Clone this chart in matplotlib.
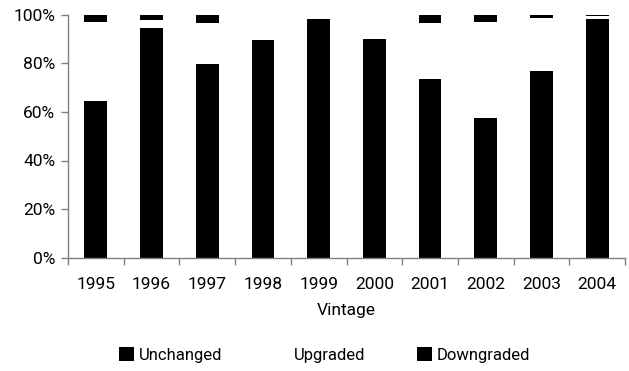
import matplotlib
matplotlib.use("Agg")
import matplotlib.pyplot as plt
from matplotlib import font_manager
import numpy as np

names = {f.name for f in font_manager.fontManager.ttflist}
fam = [f for f in ["Liberation Sans Narrow", "Roboto", "DejaVu Sans"] if f in names]
plt.rcParams['font.family'] = fam

years = ["1995", "1996", "1997", "1998", "1999", "2000", "2001", "2002", "2003", "2004"]
unchanged = [64.5, 94.5, 79.6, 89.5, 98.1, 89.9, 73.5, 57.4, 76.9, 98.1]
downgraded = [2.8, 2.0, 3.6, 0.0, 0.0, 0.0, 3.6, 2.8, 1.2, 0.6]
upgraded = [100 - u - d for u, d in zip(unchanged, downgraded)]
yticks = [0, 20, 40, 60, 80, 100]
ytick_labels = ["0%", "20%", "40%", "60%", "80%", "100%"]

fig = plt.figure(figsize=(6.29, 3.71), dpi=100)
ax = fig.add_axes([68/629, 1-257.7/371, (625-68)/629, (257.7-14.7)/371])

x = np.arange(len(years))
w = 0.41
b1 = ax.bar(x, unchanged, w, color="black", label="Unchanged")
b2 = ax.bar(x, upgraded, w, bottom=unchanged, color="white", label="Upgraded")
b3 = ax.bar(x, downgraded, w, bottom=[u + g for u, g in zip(unchanged, upgraded)],
            color="black", label="Downgraded")

ax.set_xlim(-0.5, len(years) - 0.5)
ax.set_ylim(0, 100)
ax.set_yticks(yticks)
ax.set_yticklabels(ytick_labels)
ax.set_xticks(x)
ax.set_xticklabels(years)
ax.set_xticks(np.arange(len(years) + 1) - 0.5, minor=True)
ax.tick_params(axis='x', which='major', length=0, pad=14, labelsize=12.5)
ax.tick_params(axis='x', which='minor', length=5, color="#808080", width=1)
ax.tick_params(axis='y', length=5, color="#808080", width=1, labelsize=12.5, pad=4)
for s in ["top", "right"]:
    ax.spines[s].set_visible(False)
for s in ["left", "bottom"]:
    ax.spines[s].set_color("#808080")
    ax.spines[s].set_linewidth(1)

ax.set_xlabel("Vintage", fontsize=12.5, labelpad=8)

leg = fig.legend(handles=[b1, b2, b3], loc="center", bbox_to_anchor=(0.516, 0.043),
                 ncol=3, frameon=False, fontsize=12, handlelength=0.9,
                 handleheight=0.9, handletextpad=0.3, columnspacing=3.1)

fig.savefig("out.png", dpi=100)
